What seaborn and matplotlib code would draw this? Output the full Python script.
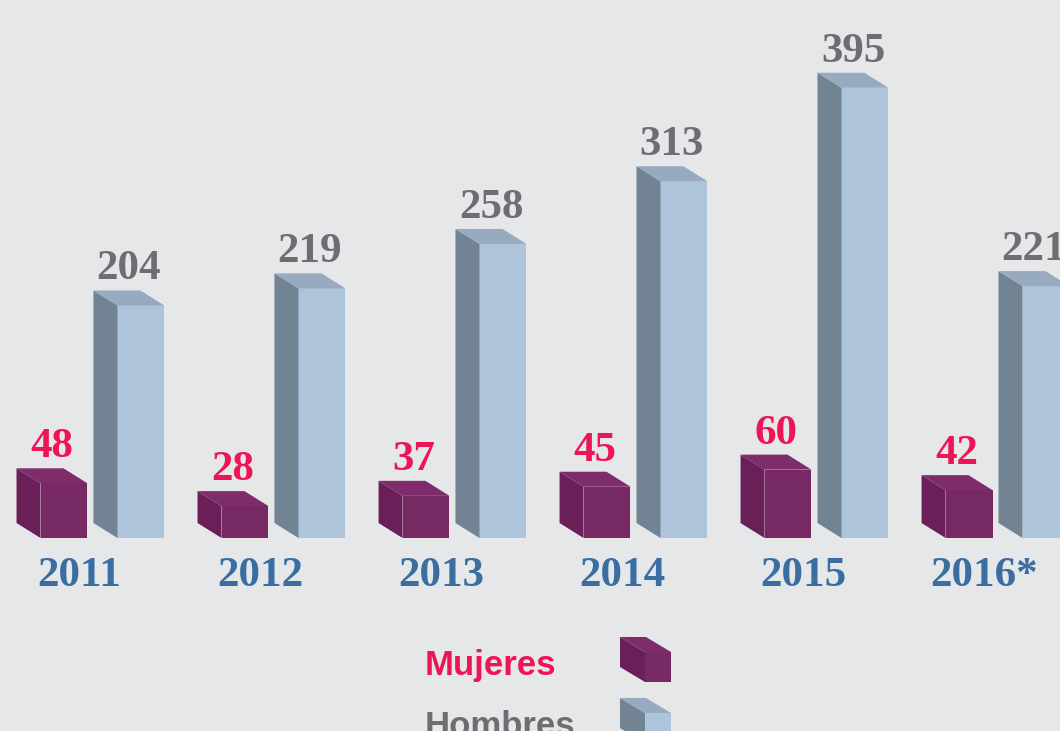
import numpy as np
import pandas as pd
import matplotlib
matplotlib.use("Agg")
import matplotlib.pyplot as plt
import seaborn as sns
from matplotlib.patches import Polygon
from matplotlib import font_manager

# Data
years = ["2011", "2012", "2013", "2014", "2015", "2016*"]
mujeres = [48, 28, 37, 45, 60, 42]
hombres = [204, 219, 258, 313, 395, 221]
series = ["Mujeres", "Hombres"]

df = pd.DataFrame({
    "year": years * 2,
    "sexo": ["Mujeres"] * len(years) + ["Hombres"] * len(years),
    "valor": mujeres + hombres,
})

# Colours
bg = "#e6e7e9"
front = {"Mujeres": "#772964", "Hombres": "#adc4da"}
side = {"Mujeres": "#6a1f58", "Hombres": "#728394"}
top = {"Mujeres": "#7e2c6b", "Hombres": "#97aabf"}
label_col = {"Mujeres": "#ee1556", "Hombres": "#6d6e71"}
year_col = "#3a6ea0"

sns.set_style("white")
plt.rcParams["font.family"] = ["Liberation Serif", "DejaVu Serif"]

names = {f.name for f in font_manager.fontManager.ttflist}
legend_font = "Liberation Sans Narrow" if "Liberation Sans Narrow" in names else "Liberation Sans"

W, H = 1060, 731
fig = plt.figure(figsize=(W / 100, H / 100), dpi=100, facecolor=bg)
ax = fig.add_axes([0, 0.264, 1, 0.736])
ax.set_facecolor(bg)

sns.barplot(
    data=df, x="year", y="valor", hue="sexo", hue_order=series,
    palette=front, width=0.85, gap=0.39, saturation=1,
    legend=False, linewidth=0, edgecolor="none", ax=ax,
)

xmin, xmax = -0.566, 5.29
ymin, ymax = 0, 472
ax.set_xlim(xmin, xmax)
ax.set_ylim(ymin, ymax)

# pixel -> data conversion for the 3d offsets
px_x = W / (xmax - xmin)
px_y = H * 0.736 / (ymax - ymin)
dx = 24 / px_x
dy = 15 / px_y

for cont, name in zip(ax.containers, series):
    for bar in cont:
        x0 = bar.get_x()
        w = bar.get_width()
        h = bar.get_height()
        ax.add_patch(Polygon([(x0, 0), (x0, h), (x0 - dx, h + dy), (x0 - dx, dy)],
                             closed=True, facecolor=side[name], edgecolor="none"))
        ax.add_patch(Polygon([(x0, h), (x0 + w, h), (x0 + w - dx, h + dy), (x0 - dx, h + dy)],
                             closed=True, facecolor=top[name], edgecolor="none"))
        ax.annotate(f"{h:.0f}", (x0 + w / 2 - dx / 2, h + dy), xytext=(0, 8),
                    textcoords="offset points", ha="center", va="baseline",
                    fontsize=31, fontweight="bold", color=label_col[name])

ax.set_xticks(np.arange(len(years)) - 0.13, years)
ax.tick_params(axis="x", length=0, pad=14, labelsize=31, labelcolor=year_col)
for t in ax.get_xticklabels():
    t.set_fontweight("bold")
ax.set_yticks([])
ax.set_xlabel("")
ax.set_ylabel("")
sns.despine(ax=ax, left=True, bottom=True)


# Legend: text + small cubes
def fig_pt(x, y):
    return (x / W, 1 - y / H)


def cube(x_left, y_bottom, name):
    fw, fh, sw, sh = 26, 30, 25, 15
    xf = x_left + sw
    fig.patches.append(Polygon([fig_pt(xf, y_bottom), fig_pt(xf + fw, y_bottom),
                                fig_pt(xf + fw, y_bottom - fh), fig_pt(xf, y_bottom - fh)],
                               closed=True, transform=fig.transFigure, facecolor=front[name], edgecolor="none"))
    fig.patches.append(Polygon([fig_pt(xf, y_bottom), fig_pt(xf, y_bottom - fh),
                                fig_pt(x_left, y_bottom - fh - sh), fig_pt(x_left, y_bottom - sh)],
                               closed=True, transform=fig.transFigure, facecolor=side[name], edgecolor="none"))
    fig.patches.append(Polygon([fig_pt(xf, y_bottom - fh), fig_pt(xf + fw, y_bottom - fh),
                                fig_pt(xf + fw - sw, y_bottom - fh - sh), fig_pt(x_left, y_bottom - fh - sh)],
                               closed=True, transform=fig.transFigure, facecolor=top[name], edgecolor="none"))


for i, name in enumerate(series):
    fig.text(425 / W, 1 - (675 + 61 * i) / H, name, ha="left", va="baseline",
             fontsize=25, fontweight="bold", family=legend_font, color=label_col[name])
    cube(620, 682 + 61 * i, name)

fig.savefig("out.png", dpi=100, facecolor=bg)
